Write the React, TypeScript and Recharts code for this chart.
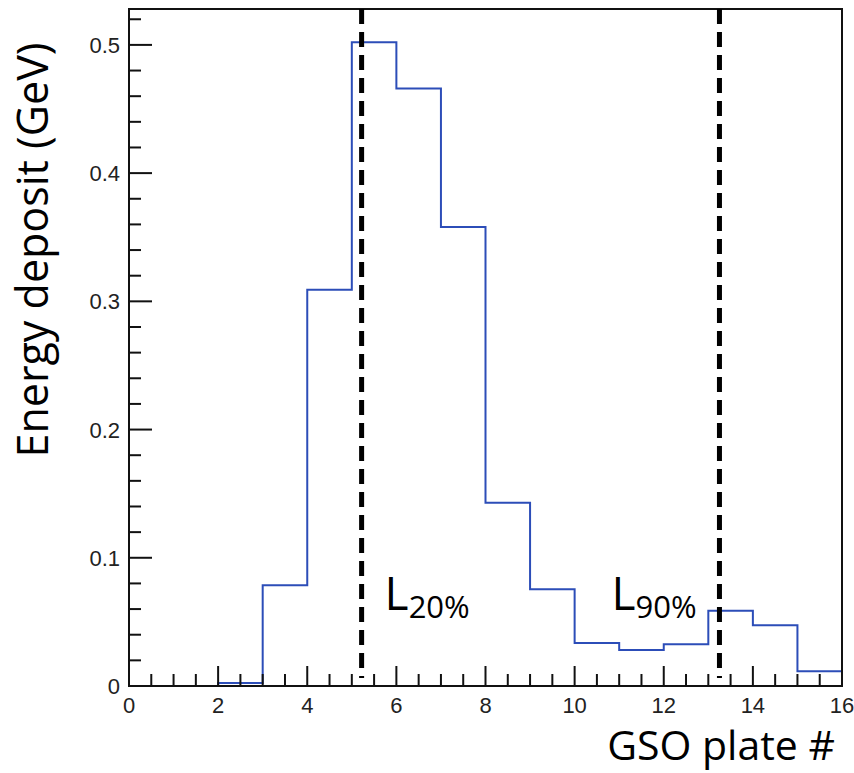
import React from "react";
import {
  ComposedChart,
  Line,
  XAxis,
  YAxis,
  ReferenceLine,
  ReferenceArea,
  Label,
} from "recharts";

// Energy deposited in each GSO plate (bin lower edge -> GeV)
const plateLowEdges = [0, 1, 2, 3, 4, 5, 6, 7, 8, 9, 10, 11, 12, 13, 14, 15];
const energyDeposit = [
  0, 0, 0.0023, 0.0785, 0.309, 0.502, 0.466, 0.358, 0.143, 0.0755, 0.0335,
  0.028, 0.0325, 0.0587, 0.0473, 0.0115,
];
const lastEdge = 16;

// Shower-depth markers
const depthMarkers = [
  { x: 5.22, name: "L", sub: "20%" },
  { x: 13.25, name: "L", sub: "90%" },
];

// Axis ticks
const xMajorTicks = [0, 2, 4, 6, 8, 10, 12, 14, 16];
const xTickLabels = ["0", "2", "4", "6", "8", "10", "12", "14", "16"];
const xAllTicks = [
  0, 0.5, 1, 1.5, 2, 2.5, 3, 3.5, 4, 4.5, 5, 5.5, 6, 6.5, 7, 7.5, 8, 8.5, 9,
  9.5, 10, 10.5, 11, 11.5, 12, 12.5, 13, 13.5, 14, 14.5, 15, 15.5, 16,
];
const yMajorTicks = [0, 0.1, 0.2, 0.3, 0.4, 0.5];
const yTickLabels = ["0", "0.1", "0.2", "0.3", "0.4", "0.5"];
const yAllTicks = [
  0, 0.02, 0.04, 0.06, 0.08, 0.1, 0.12, 0.14, 0.16, 0.18, 0.2, 0.22, 0.24,
  0.26, 0.28, 0.3, 0.32, 0.34, 0.36, 0.38, 0.4, 0.42, 0.44, 0.46, 0.48, 0.5,
  0.52,
];
const yMax = 0.528;

// Step-histogram outline: one point per bin edge, last bin repeated at the upper edge
const histData = [
  ...plateLowEdges.map((x, i) => ({ x, e: energyDeposit[i] })),
  { x: lastEdge, e: energyDeposit[energyDeposit.length - 1] },
];

const TICK_FONT = "'Liberation Sans', Arial, Helvetica, sans-serif";
const TITLE_FONT = "'Open Sans', 'Noto Sans', sans-serif";
const X_TICK_MARGIN = 27;
const Y_TICK_MARGIN = 9;

const near = (a: number, b: number) => Math.abs(a - b) < 1e-6;

const XTick = (props: any) => {
  const { x, y, payload } = props;
  const v = payload.value;
  const idx = xMajorTicks.findIndex((t) => near(t, v));
  const major = idx >= 0;
  const axisY = y - X_TICK_MARGIN;
  return (
    <g>
      <line
        x1={x}
        x2={x}
        y1={axisY}
        y2={axisY - (major ? 20 : 12)}
        stroke="#111"
        strokeWidth={2}
      />
      {major && (
        <text
          x={x}
          y={y}
          textAnchor="middle"
          fontFamily={TICK_FONT}
          fontSize={22}
          fill="#222"
        >
          {xTickLabels[idx]}
        </text>
      )}
    </g>
  );
};

const YTick = (props: any) => {
  const { x, y, payload } = props;
  const v = payload.value;
  const idx = yMajorTicks.findIndex((t) => near(t, v));
  const major = idx >= 0;
  const axisX = x + Y_TICK_MARGIN;
  return (
    <g>
      <line
        x1={axisX}
        x2={axisX + (major ? 23 : 12)}
        y1={y}
        y2={y}
        stroke="#111"
        strokeWidth={2}
      />
      {major && (
        <text
          x={x}
          y={y + 8}
          textAnchor="end"
          fontFamily={TICK_FONT}
          fontSize={22}
          fill="#222"
        >
          {yTickLabels[idx]}
        </text>
      )}
    </g>
  );
};

const markerLabel = (m: { x: number; name: string; sub: string }, right: boolean) =>
  (p: any) => {
    const vb = p.viewBox || {};
    const baseY = vb.y + vb.height - 68;
    const tx = right ? vb.x + 23 : vb.x - 108;
    return (
      <text x={tx} y={baseY} fontFamily={TITLE_FONT} fill="#000">
        <tspan fontSize={46}>{m.name}</tspan>
        <tspan fontSize={31} dy={8}>
          {m.sub}
        </tspan>
      </text>
    );
  };

export default function App() {
  return (
    <div style={{ position: "absolute", left: 0, top: 0, width: 854, height: 773, background: "#fff" }}>
      <ComposedChart
        width={854}
        height={773}
        data={histData}
        margin={{ top: 9, right: 12, left: 69, bottom: 57 }}
      >
        <XAxis
          dataKey="x"
          type="number"
          domain={[0, 16]}
          ticks={xAllTicks}
          interval={0}
          tickSize={0}
          tickMargin={X_TICK_MARGIN}
          tick={<XTick />}
          axisLine={{ stroke: "#111", strokeWidth: 2 }}
          height={30}
          allowDataOverflow
        >
          <Label
            content={(p: any) => {
              const vb = p.viewBox || {};
              return (
                <text
                  x={vb.x + vb.width - 7}
                  y={vb.y + 74}
                  textAnchor="end"
                  fontFamily={TITLE_FONT}
                  fontSize={41}
                  fill="#000"
                >
                  GSO plate #
                </text>
              );
            }}
          />
        </XAxis>
        <YAxis
          type="number"
          domain={[0, yMax]}
          ticks={yAllTicks}
          interval={0}
          tickSize={0}
          tickMargin={Y_TICK_MARGIN}
          tick={<YTick />}
          axisLine={{ stroke: "#111", strokeWidth: 2 }}
          width={60}
          allowDataOverflow
        >
          <Label
            content={(p: any) => {
              const vb = p.viewBox || {};
              const cx = vb.x - 21;
              const cy = vb.y + 241;
              return (
                <text
                  x={cx}
                  y={cy}
                  transform={`rotate(-90, ${cx}, ${cy})`}
                  textAnchor="middle"
                  fontFamily={TITLE_FONT}
                  fontSize={43}
                  fill="#000"
                >
                  Energy deposit (GeV)
                </text>
              );
            }}
          />
        </YAxis>
        <ReferenceArea
          x1={0}
          x2={16}
          y1={0}
          y2={yMax}
          fill="none"
          stroke="#111"
          strokeWidth={2}
          ifOverflow="visible"
        />
        <Line
          dataKey="e"
          type="stepAfter"
          stroke="#2c4db8"
          strokeWidth={2}
          dot={false}
          activeDot={false}
          isAnimationActive={false}
        />
        {depthMarkers.map((m, i) => (
          <ReferenceLine
            key={i}
            segment={[
              { x: m.x, y: yMax },
              { x: m.x, y: 0.0062 },
            ]}
            stroke="#000"
            strokeWidth={5}
            strokeDasharray="15 8"
            ifOverflow="visible"
            label={{ content: markerLabel(m, i === 0) } as any}
          />
        ))}
      </ComposedChart>
    </div>
  );
}
